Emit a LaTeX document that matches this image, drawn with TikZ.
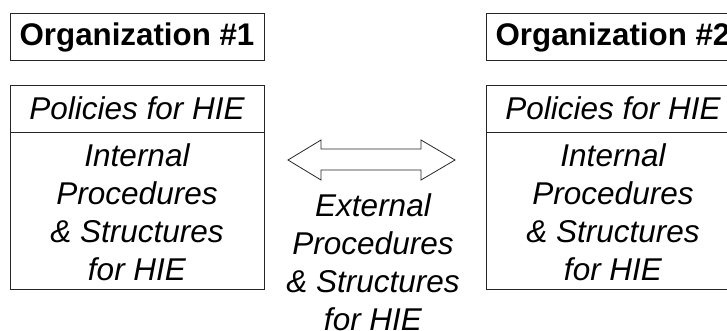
\documentclass[tikz,border=0pt]{standalone}
\usepackage{fontspec}
\setmainfont{Liberation Sans}
\begin{document}
\begin{tikzpicture}[x=1pt,y=-1pt,
  frame/.style={draw=black!85, line width=0.9pt},
  orgtext/.style={font=\fontsize{31.3}{36}\selectfont\bfseries, inner sep=0pt},
  bodytext/.style={font=\fontsize{31.5}{38}\selectfont\itshape, align=center, inner sep=0pt}]
\useasboundingbox (0,0) rectangle (727,330);
\clip (0,0) rectangle (727,330);
% left organization
\draw[frame] (10,13) rectangle (264,60);
\node[orgtext] (org1) at (137,37) {Organization \#1};
\draw[frame] (10,85) rectangle (264,289);
\draw[frame] (10,132) -- (264,132);
\node[bodytext] (pol1) at (137,108.5) {Policies for HIE};
\node[bodytext] (int1) at (137,212) {Internal\\Procedures\\\& Structures\\for HIE};
% right organization
\draw[frame] (486,13) rectangle (740,60);
\node[orgtext] (org2) at (613,37) {Organization \#2};
\draw[frame] (486,85) rectangle (740,289);
\draw[frame] (486,132) -- (740,132);
\node[bodytext] (pol2) at (613,108.5) {Policies for HIE};
\node[bodytext] (int2) at (613,212) {Internal\\Procedures\\\& Structures\\for HIE};
% double arrow
\draw[frame, line width=0.8pt] (288,160) -- (321,140) -- (321,149) -- (421,149) -- (421,140) -- (455,160)
  -- (421,180) -- (421,170) -- (321,170) -- (321,180) -- cycle;
\node[bodytext] (ext) at (373,262) {External\\Procedures\\\& Structures\\for HIE};
\end{tikzpicture}
\end{document}
